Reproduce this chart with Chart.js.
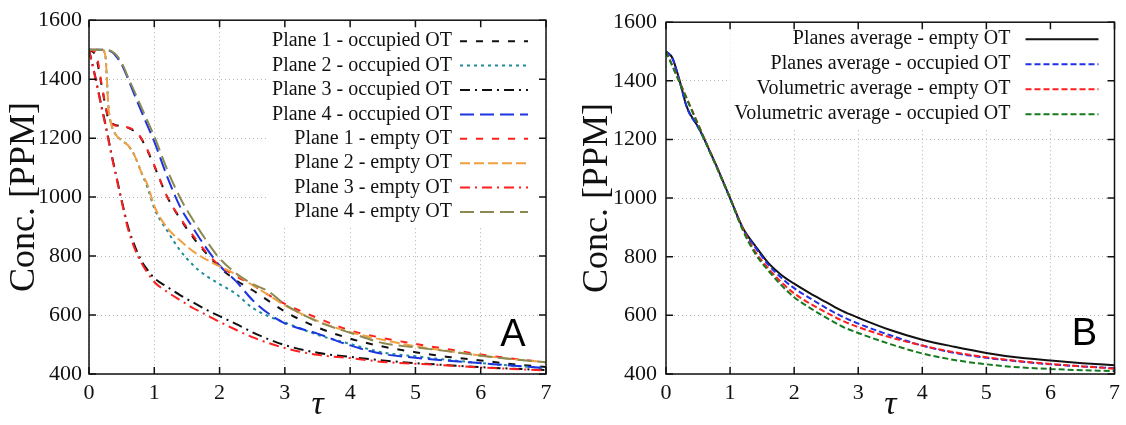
<!DOCTYPE html>
<html>
<head>
<meta charset="utf-8">
<script src="https://cdn.jsdelivr.net/npm/chart.js@4.4.1/dist/chart.umd.min.js"></script>
<style>
  html, body { margin: 0; padding: 0; background: #fff; }
  .panel { position: absolute; top: 0; height: 425px; width: 563px; }
  #panelA { left: 0; }
  #panelB { left: 563px; }
</style>
</head>
<body>
<div class="panel" id="panelA"><canvas id="chartA" width="563" height="425"></canvas></div>
<div class="panel" id="panelB"><canvas id="chartB" width="563" height="425"></canvas></div>
<script>
// dimensionless time, shared by every curve
const tau = [0, 0.1, 0.2, 0.25, 0.3, 0.35, 0.4, 0.5, 0.6, 0.7, 0.8, 0.9, 1.0, 1.2, 1.4, 1.6, 1.8, 2.0, 2.25, 2.5, 2.75, 3.0, 3.5, 4.0, 4.5, 5.0, 5.5, 6.0, 6.5, 7.0];
const xTickValues = [0, 1, 2, 3, 4, 5, 6, 7];
const yTickValues = [400, 600, 800, 1000, 1200, 1400, 1600];

// panel A - single planes
const plane1Occupied = [1500, 1480, 1370, 1310, 1262, 1250, 1245, 1240, 1235, 1222, 1198, 1155, 1105, 1000, 925, 862, 808, 762, 718, 685, 648, 612, 558, 520, 493, 474, 458, 446, 433, 424];
const plane2Occupied = [1500, 1500, 1500, 1480, 1300, 1240, 1215, 1192, 1175, 1140, 1085, 1030, 962, 885, 818, 768, 732, 705, 672, 625, 596, 575, 533, 502, 473, 460, 448, 437, 428, 420];
const plane3Occupied = [1500, 1405, 1300, 1250, 1195, 1140, 1090, 990, 898, 835, 785, 752, 725, 695, 667, 642, 618, 596, 570, 542, 518, 498, 472, 458, 446, 437, 430, 423, 418, 413];
const plane4Occupied = [1500, 1500, 1500, 1500, 1498, 1492, 1482, 1450, 1400, 1345, 1292, 1240, 1188, 1068, 965, 893, 826, 768, 715, 652, 605, 572, 537, 497, 468, 455, 445, 437, 428, 420];
const plane1Empty = [1500, 1490, 1375, 1315, 1265, 1248, 1243, 1240, 1236, 1225, 1200, 1158, 1108, 1000, 928, 868, 812, 768, 732, 703, 668, 638, 590, 548, 522, 502, 484, 466, 452, 440];
const plane2Empty = [1500, 1500, 1500, 1480, 1300, 1240, 1215, 1192, 1175, 1140, 1085, 1040, 970, 895, 852, 815, 788, 765, 738, 702, 668, 633, 580, 542, 516, 494, 478, 463, 450, 440];
const plane3Empty = [1500, 1400, 1295, 1245, 1190, 1135, 1085, 985, 890, 825, 778, 742, 712, 678, 650, 623, 600, 577, 550, 525, 505, 488, 465, 454, 441, 435, 429, 422, 417, 412];
const plane4Empty = [1500, 1500, 1500, 1500, 1499, 1494, 1486, 1456, 1406, 1356, 1306, 1256, 1206, 1092, 996, 920, 852, 792, 742, 706, 680, 636, 578, 540, 505, 490, 477, 462, 450, 440];

// panel B - averages
const planesAvgEmpty = [1500, 1478, 1410, 1370, 1328, 1298, 1278, 1243, 1200, 1152, 1104, 1052, 1000, 898, 835, 778, 738, 708, 675, 645, 615, 592, 550, 517, 493, 472, 456, 446, 437, 430];
const planesAvgOccupied = [1500, 1476, 1408, 1368, 1326, 1296, 1276, 1242, 1199, 1150, 1102, 1050, 998, 895, 830, 772, 728, 693, 658, 625, 596, 572, 532, 497, 472, 455, 443, 433, 426, 420];
const volAvgEmpty = [1500, 1452, 1402, 1378, 1353, 1328, 1303, 1253, 1203, 1153, 1103, 1052, 1002, 895, 815, 760, 713, 675, 640, 610, 582, 560, 525, 497, 474, 457, 444, 434, 426, 418];
const volAvgOccupied = [1500, 1450, 1400, 1375, 1350, 1325, 1300, 1250, 1200, 1150, 1100, 1050, 1000, 890, 808, 752, 703, 662, 625, 592, 562, 540, 502, 470, 448, 433, 423, 417, 413, 410];

const serif = '"Liberation Serif", "Times New Roman", serif';

function series(label, values, color, dash, width) {
    return {
        label,
        data: tau.map((t, i) => ({ x: t, y: values[i] })),
        borderColor: color,
        borderDash: dash,
        borderWidth: width || 2,
        pointRadius: 0,
        fill: false,
        cubicInterpolationMode: "monotone"
    };
}

// black frame + inward tick marks like the original plot
const framePlugin = {
    id: "frame",
    afterDraw(chart) {
        const { ctx, chartArea: a, scales: { x, y } } = chart;
        ctx.save();
        ctx.strokeStyle = "#111";
        ctx.lineWidth = 1.5;
        ctx.setLineDash([]);
        ctx.strokeRect(a.left, a.top, a.right - a.left, a.bottom - a.top);
        ctx.beginPath();
        x.ticks.forEach(t => {
            const px = x.getPixelForValue(t.value);
            ctx.moveTo(px, a.bottom); ctx.lineTo(px, a.bottom - 7);
            ctx.moveTo(px, a.top); ctx.lineTo(px, a.top + 7);
        });
        y.ticks.forEach(t => {
            const py = y.getPixelForValue(t.value);
            ctx.moveTo(a.left, py); ctx.lineTo(a.left + 7, py);
            ctx.moveTo(a.right, py); ctx.lineTo(a.right - 7, py);
        });
        ctx.stroke();
        ctx.restore();
    }
};

// legend with text on the left and line sample on the right, plus panel letter
const keyPlugin = {
    id: "key",
    afterDatasetsDraw(chart, args, o) {
        const { ctx, chartArea: a } = chart;
        const sets = chart.data.datasets;
        ctx.save();
        ctx.font = `${o.size}px ${serif}`;
        const textRight = a.right - o.textOffset;
        const widest = Math.max(...sets.map(d => ctx.measureText(d.label).width));
        const boxLeft = textRight - widest - 4;
        ctx.fillStyle = "#fff";
        ctx.fillRect(boxLeft, a.top + 1, a.right - 1 - boxLeft, o.rowTop + o.rowStep * (sets.length - 1) + 13);

        sets.forEach((d, i) => {
            const yy = a.top + o.rowTop + i * o.rowStep;
            ctx.fillStyle = "#111";
            ctx.textAlign = "right";
            ctx.textBaseline = "middle";
            ctx.fillText(d.label, textRight, yy);
            ctx.strokeStyle = d.borderColor;
            ctx.lineWidth = d.borderWidth;
            ctx.setLineDash(d.borderDash || []);
            ctx.beginPath();
            ctx.moveTo(a.right - o.lineStart, yy);
            ctx.lineTo(a.right - o.lineEnd, yy);
            ctx.stroke();
        });

        ctx.setLineDash([]);
        ctx.font = '38px "Liberation Sans", Arial, sans-serif';
        ctx.textAlign = "center";
        ctx.textBaseline = "alphabetic";
        ctx.fillStyle = "#000";
        ctx.fillText(o.letter, a.right - o.letterDx, a.bottom - o.letterDy);
        ctx.restore();
    }
};

function buildChart(id, datasets, cfg) {
    datasets.forEach((d, i) => { d.order = datasets.length - i; });
    return new Chart(document.getElementById(id), {
        type: "line",
        data: { datasets },
        options: {
            responsive: false,
            animation: false,
            layout: { padding: { left: 0, right: cfg.padRight, top: 16, bottom: 0 } },
            plugins: {
                legend: { display: false },
                tooltip: { enabled: false },
                key: cfg.key
            },
            scales: {
                x: {
                    type: "linear",
                    min: xTickValues[0],
                    max: xTickValues[xTickValues.length - 1],
                    ticks: { stepSize: 1, padding: 6, color: "#111", font: { family: serif, size: 22 }, callback: v => String(v) },
                    grid: { color: "#b4b4b4", lineWidth: 1, drawTicks: false },
                    border: { display: false, dash: [1, 3] },
                    title: {
                        display: true, text: "τ", color: "#111",
                        font: { family: serif, size: 34, style: "italic" },
                        padding: { top: 0, bottom: 0 }
                    },
                    afterFit: s => { s.height = 51; }
                },
                y: {
                    type: "linear",
                    min: yTickValues[0],
                    max: yTickValues[yTickValues.length - 1],
                    ticks: { stepSize: 200, padding: cfg.yPad, color: "#111", font: { family: serif, size: 22 }, callback: v => String(v) },
                    grid: { color: "#b4b4b4", lineWidth: 1, drawTicks: false },
                    border: { display: false, dash: [1, 3] },
                    title: {
                        display: true, text: "Conc. [PPM]", color: "#111",
                        font: { family: serif, size: 36 },
                        padding: { top: cfg.titlePad, bottom: 0 }
                    },
                    afterFit: s => { s.width = cfg.yWidth; }
                }
            }
        },
        plugins: [keyPlugin, framePlugin]
    });
}

buildChart("chartA", [
    series("Plane 1 - occupied OT", plane1Occupied, "#111111", [7, 9]),
    series("Plane 2 - occupied OT", plane2Occupied, "#1f8c9a", [3, 4]),
    series("Plane 3 - occupied OT", plane3Occupied, "#111111", [10, 5, 2, 5]),
    series("Plane 4 - occupied OT", plane4Occupied, "#1c35e0", [14, 6]),
    series("Plane 1 - empty OT", plane1Empty, "#ff1f1f", [7, 9]),
    series("Plane 2 - empty OT", plane2Empty, "#f0a040", [10, 4]),
    series("Plane 3 - empty OT", plane3Empty, "#ff1f1f", [10, 5, 2, 5]),
    series("Plane 4 - empty OT", plane4Empty, "#8c8a52", [14, 6])
], {
    padRight: 17, yWidth: 89, yPad: 7, titlePad: 3,
    key: { size: 20, textOffset: 94, lineStart: 86, lineEnd: 18, rowTop: 21, rowStep: 24.4, letter: "A", letterDx: 33, letterDy: 28 }
});

buildChart("chartB", [
    series("Planes average - empty OT", planesAvgEmpty, "#111111", []),
    series("Planes average - occupied OT", planesAvgOccupied, "#1f30e8", [6, 3]),
    series("Volumetric average - empty OT", volAvgEmpty, "#ff1f1f", [6, 3]),
    series("Volumetric average - occupied OT", volAvgOccupied, "#17791f", [6, 3])
], {
    padRight: 5, yWidth: 103, yPad: 9, titlePad: 13,
    key: { size: 20, textOffset: 104, lineStart: 89, lineEnd: 16, rowTop: 17, rowStep: 25, letter: "B", letterDx: 30, letterDy: 29 }
});
</script>
</body>
</html>
